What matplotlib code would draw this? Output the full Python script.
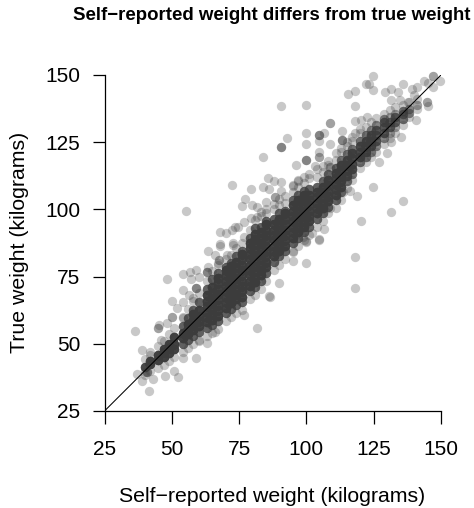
import numpy as np
import matplotlib
matplotlib.use("Agg")
import matplotlib.pyplot as plt

plt.rcParams['font.family'] = ['Liberation Sans', 'DejaVu Sans']

TITLE = "Self\u2212reported weight differs from true weight"
XLABEL = "Self\u2212reported weight (kilograms)"
YLABEL = "True weight (kilograms)"
TICKS = [25, 50, 75, 100, 125, 150]

# Reported-weight columns of the crowded band
col_x = [40, 42, 45, 47, 49, 51, 54, 56, 58, 60, 63, 65, 67, 70, 72, 74, 76, 79, 81, 83, 85, 88,
         90, 92, 95, 97, 99, 101, 104, 106, 108, 111, 113, 115, 117, 120, 122, 124, 126, 129,
         131, 133, 136, 138, 141]
# How many respondents are stacked on each inner value of the column
col_depth = [8, 10, 10, 10, 10, 10, 10, 10, 10, 10, 10, 10, 10, 10, 10, 10, 10, 10, 10, 10, 10, 10,
             10, 10, 10, 10, 10, 10, 10, 10, 10, 10, 9, 8, 8, 8, 8, 7, 6, 6, 5, 5, 4, 3, 2]
# True weights that are stacked in each column
col_stacked = [
    [41.5], [42.5, 43.5], [44, 46], [45, 47, 48], [46.5, 48.5, 50], [48, 50, 52.5],
    [50, 52, 54, 56.5], [51.5, 53.5, 55.5, 57.5, 59.5], [53, 55, 57, 59, 61, 62.5],
    [54.5, 56.5, 58.5, 60.5, 62.5, 65.5], [56, 58, 60, 62, 64, 66, 68, 70.5],
    [57, 59, 61, 63, 65, 67, 69, 71, 74], [58.5, 60.5, 62.5, 64.5, 66.5, 68.5, 70.5, 72.5, 74.5, 76.5],
    [61.5, 63.5, 65.5, 67.5, 69.5, 71.5, 73.5, 75.5, 77.5, 78.5],
    [63, 65, 67, 69, 71, 73, 75, 77, 79, 80],
    [64.5, 66.5, 68.5, 70.5, 72.5, 74.5, 76.5, 78.5, 80.5, 82.5],
    [65.5, 67.5, 69.5, 71.5, 73.5, 75.5, 77.5, 79.5, 81.5, 83.5, 84.5],
    [69.5, 71.5, 73.5, 75.5, 77.5, 79.5, 81.5, 83.5, 85.5, 87.5, 89.5],
    [71, 73, 75, 77, 79, 81, 83, 85, 87, 89, 91, 93],
    [73.5, 75.5, 77.5, 79.5, 81.5, 83.5, 85.5, 87.5, 89.5, 91.5, 93.5],
    [76.5, 78.5, 80.5, 82.5, 84.5, 86.5, 88.5, 90.5, 92.5, 94.5, 95.5],
    [80.5, 82.5, 84.5, 86.5, 88.5, 90.5, 92.5, 94.5, 96.5],
    [82.5, 84.5, 86.5, 88.5, 90.5, 92.5, 94.5, 96.5, 98.5],
    [84.5, 86.5, 88.5, 90.5, 92.5, 94.5, 96.5, 98.5, 99.5],
    [87.5, 89.5, 91.5, 93.5, 95.5, 97.5, 99.5, 101.5, 103.5],
    [89.5, 91.5, 93.5, 95.5, 97.5, 99.5, 101.5, 103.5, 105.5],
    [91.5, 93.5, 95.5, 97.5, 99.5, 101.5, 103.5, 105.5, 107],
    [93.5, 95.5, 97.5, 99.5, 101.5, 103.5, 105.5, 107.5],
    [96.5, 98.5, 100.5, 102.5, 104.5, 106.5, 108.5],
    [98.5, 100.5, 102.5, 104.5, 106.5, 108.5, 110.5],
    [101, 103, 105, 107, 109, 111, 113],
    [103.5, 105.5, 107.5, 109.5, 111.5, 113.5, 115.5],
    [106.5, 108.5, 110.5, 112.5, 114.5, 116.5, 118.5],
    [110.5, 112.5, 114.5, 116.5, 118.5, 120.5],
    [113, 115, 117, 119, 121, 122.5],
    [117.5, 119.5, 121.5, 123.5, 125.5],
    [119.5, 121.5, 123.5, 125.5, 127.5],
    [121.5, 123.5, 125.5, 127.5, 129.5],
    [123.5, 125.5, 127.5, 129.5, 131.5],
    [126.5, 128.5, 130.5, 132.5, 133.5],
    [128.5, 130.5, 132.5, 134.5],
    [130.5, 132.5, 134.5, 135.5], [133.5, 135.5, 136.5], [136, 137.5], [139]]
# True weights on the fringe of each column, hardly stacked
col_fringe = [
    [38.5, 39.5, 44.5], [40, 46, 47], [41, 49], [42, 51], [43.5, 53.5], [45, 56],
    [47, 59.5, 60], [48.5, 63], [50, 66, 67], [51.5, 69, 51], [53, 73.5], [54, 77],
    [55.5, 79.5, 80], [58.5, 81.5], [60, 83], [61.5, 85.5], [62.5, 87.5], [66.5, 92.5],
    [68, 96], [70.5, 97.5, 99], [73.5, 98.5, 100], [77.5, 100, 102], [79.5, 101.5, 104],
    [81.5, 102.5, 105], [84.5, 106.5, 109], [86.5, 108.5, 111], [88.5, 110, 112],
    [90.5, 111.5, 113], [93.5, 112, 115], [95.5, 114, 116], [98.5, 116.5, 118],
    [100.5, 118.5, 121], [103.5, 121.5, 123], [108, 123.5, 125], [111, 125.5, 127],
    [115.5, 128.5, 130], [117.5, 130.5], [119.5, 132.5], [121.5, 134], [124.5, 135.5],
    [126.5, 137], [128.5, 138], [131.5, 139], [134.5, 140], [137.5, 141]]

# Isolated points
single_x = [55.3, 72.5, 83.9, 79.3, 85.7, 83.8, 86.1, 77.1, 76.2, 79.9, 81.5, 84.9, 88.3, 81.8,
            79.3, 76.9, 74.7, 73.5, 72.2, 70.1, 67.9, 67.9, 72.6, 76.8,
            90.7, 99.7, 124.8, 122, 123.1, 124.6, 118, 115.6, 118, 129.2, 131.4, 134.2, 136,
            139.4, 141, 143.7, 145.3, 147.2, 147.2, 149.7, 147.2, 140, 144.7, 144.7, 145,
            131.3, 134.8, 137.9, 140.6, 135.2, 131.3, 130.1, 127, 108.8, 108.8, 99.7, 92.9,
            90.7, 90.7, 90.7, 99.7, 104.5, 104.5, 104.5, 104.5, 106.7, 108.8, 113.4, 113.4,
            113.4, 113.4, 118, 120.2, 122.4, 118, 104.5, 99.7, 99.7, 99.7, 96.2, 103.2, 104.5,
            104.5, 108.8, 108.8, 96.7, 95.2, 90.6, 90.6, 88, 88.4, 124.8, 118.7, 116.2, 136,
            131.4, 120.2, 106.6, 104.5, 99.9, 102, 108.8, 113.7, 98.9,
            118, 118, 99.7, 95.2, 95.2, 89.8, 86.3, 104.5, 99.7,
            36.2, 38.9, 41.7, 37, 38.9, 42.9, 40.7, 40.7, 40.7, 47.6, 50.8, 52.2, 59, 54.3,
            63, 66, 81.6, 77, 86.2, 48.1, 54.3, 56.8, 59, 57, 60.1, 54.3, 59, 59, 59, 56.5,
            50, 54.3, 51.8, 50, 50, 45.4, 45, 45, 48.1, 46, 63.4, 67.9, 72.6, 66, 70.4, 67.7,
            67.7, 63.6, 63, 63, 63]
single_y = [99.4, 109.1, 119.6, 107.7, 111.7, 108.2, 107.6, 103.8, 101.4, 101.8, 100.8, 102.6,
            104.7, 97.3, 96.7, 95.3, 93.6, 93.3, 92.3, 91.3, 91.6, 87.1, 87.4, 89.8,
            138.3, 139, 149.5, 146.7, 146.7, 144.5, 144.1, 143.1, 138.3, 143.8, 144.8, 143.5,
            146.7, 144.8, 145.7, 147.6, 147, 149.8, 149.8, 147.6, 145.5, 142.6, 140.1, 140.1,
            138.6, 140.7, 140.7, 140.1, 133.3, 127.1, 124.9, 120.9, 117.6, 132, 132, 128.6,
            126.5, 123.4, 123.4, 123.4, 124.4, 127.7, 127.7, 127.7, 125.5, 128.3, 124.4, 129,
            125.9, 125.9, 125.9, 133, 133.3, 134.5, 128.3, 121.5, 118.2, 118.2, 118.2, 116.6,
            116.3, 119.4, 119.4, 115.9, 115.9, 110.7, 108.7, 110.2, 107, 110.4, 104.5, 108.5,
            105, 107, 103, 99.2, 95.8, 92.6, 88.9, 88.4, 91.1, 100.4, 106.6, 89.9,
            82.4, 70.7, 79.9, 80.9, 84, 72.8, 67.5, 88.6, 88,
            54.7, 47.6, 32.5, 38.6, 36.3, 36.8, 39.4, 39.4, 39.4, 38.1, 39.9, 37.5, 44.9, 44.6,
            50.4, 54.5, 55.7, 60.8, 67.6, 74.1, 75.8, 76.6, 77.4, 74.1, 74.7, 70.2, 70.6, 70.6,
            70.6, 68.1, 66, 65.7, 63.2, 59.8, 59.8, 57, 55.7, 55.7, 57.6, 51.4, 84.5, 86.5,
            86.7, 83, 83, 81.2, 81.2, 78.7, 76.8, 76.8, 76.8]
identity = [25, 150]

xs, ys = list(single_x), list(single_y)
for cx, depth, stacked, fringe in zip(col_x, col_depth, col_stacked, col_fringe):
    for i, v in enumerate(stacked):
        inner = 0 < i < len(stacked) - 1 or len(stacked) <= 3
        n = depth if inner else max(1, depth // 2)
        xs += [cx] * n
        ys += [v] * n
    for v in fringe:
        xs.append(cx)
        ys.append(v)

W, H = 474, 508
fig = plt.figure(figsize=(W / 100, H / 100), dpi=100)
ax = fig.add_axes([104.5 / W, 1 - 411 / H, 336.5 / W, 336 / H])
ax.set_xlim(25, 150)
ax.set_ylim(25, 150)

ax.scatter(xs, ys, s=45, c='#3c3c3c', alpha=0.28, linewidths=0, clip_on=False, zorder=2)
ax.plot(identity, identity, color='black', lw=0.75, zorder=3)

for s in ('top', 'right'):
    ax.spines[s].set_visible(False)
for s in ('left', 'bottom'):
    ax.spines[s].set_linewidth(0.9)
ax.set_xticks(TICKS)
ax.set_yticks(TICKS)
ax.tick_params(axis='x', length=9, width=0.9, pad=12, labelsize=15)
ax.tick_params(axis='y', length=9, width=0.9, pad=8.5, labelsize=15)

fig.text(272 / W, 1 - 15 / H, TITLE, ha='center', va='center', fontsize=13.4, fontweight='bold')
fig.text(272.5 / W, 1 - 497 / H, XLABEL, ha='center', va='center', fontsize=15.3)
fig.text(20 / W, 1 - 242 / H, YLABEL, ha='center', va='center', rotation=90, fontsize=15.3)

fig.savefig('out.png', dpi=100)
